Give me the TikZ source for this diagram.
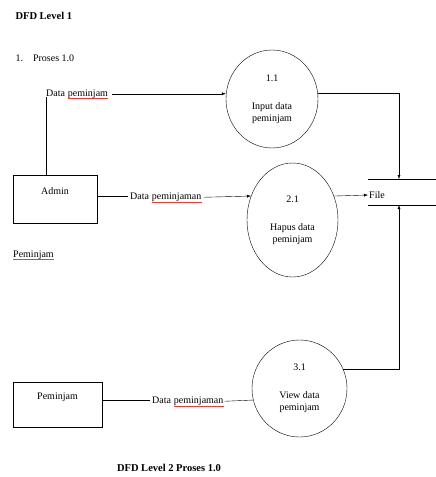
\documentclass[tikz,border=0pt]{standalone}
\usepackage{fontspec}
\setmainfont{Liberation Serif}
\usetikzlibrary{shapes.geometric}
\usetikzlibrary{arrows.meta}
\tikzset{proses/.style={draw,ellipse,inner sep=0pt,align=center},
    entitas/.style={draw,rectangle,inner sep=0pt},
    teks/.style={anchor=base west,inner sep=0pt},
    salah/.style={draw=red!80,line width=0.8pt},
    alir/.style={-{Latex[length=4pt,width=3pt]}}
}

\begin{document}
\begin{tikzpicture}[x=1pt,y=-1pt,font=\fontsize{10}{12}\selectfont]
                \useasboundingbox (0,0) rectangle (436,477);
                
                \node[anchor=west,font=\fontsize{10.5}{12}\selectfont\bfseries] (judul1) at (12,16) {DFD Level 1};
                \node[anchor=west] (sub) at (12,58) {1.\quad Proses 1.0};
                
                % Entitas luar
                \node[entitas,minimum width=84pt,minimum height=48pt,label={[anchor=north,yshift=-9pt]north:Admin}] (admin) at (55,199) {};
                \node[entitas,minimum width=89pt,minimum height=45pt,label={[anchor=north,yshift=-8pt]north:Peminjam}] (peminjam) at (57.5,404.5) {};
                \node[teks] (pem) at (13,257) {Peminjam};
                \draw[salah] ([yshift=-2.5pt]pem.base west) -- ([yshift=-2.5pt]pem.base east);
                
                % Proses
                \node[proses,minimum width=92pt,minimum height=98pt] (p11) at (272,99) {1.1\\[16pt]Input data\\peminjam};
                \node[proses,minimum width=91pt,minimum height=114pt] (p21) at (292.5,220) {2.1\\[16pt]Hapus data\\peminjam};
                \node[proses,minimum width=95pt,minimum height=97pt] (p31) at (299.5,388.5) {3.1\\[16pt]View data\\peminjam};
                
                % Data store
                \draw (368,179) -- (436,179);
                \draw (368,205) -- (436,205);
                \node[anchor=west,inner sep=1pt] (file) at (368,195) {File};
                \coordinate (s1) at (399,179);
                \coordinate (s2) at (399,205);
                
                % Label aliran data
                \node[teks] (lbl1) at (46,96) {Data};
                \node[teks] (lbl1w) at ([xshift=2.5pt]lbl1.base east) {peminjam};
                \node[teks] (lbl2) at (130,199.5) {Data};
                \node[teks] (lbl2w) at ([xshift=2.5pt]lbl2.base east) {peminjaman};
                \node[teks] (lbl3) at (152,403.5) {Data};
                \node[teks] (lbl3w) at ([xshift=2.5pt]lbl3.base east) {peminjaman};
                \foreach \w in {lbl1w,lbl2w,lbl3w}
                    \draw[salah] ([yshift=-2.5pt]\w.base west) -- ([yshift=-2.5pt]\w.base east);
                
                % Aliran data
                \draw (admin.north -| lbl1.south west) -- ([yshift=-1pt]lbl1.south west);
                \draw[alir] ([xshift=4pt]lbl1w.east) -- (lbl1w.east -| p11.west);
                \draw (lbl2.west -| admin.east) -- ([xshift=-2pt]lbl2.west);
                \draw[alir] ([xshift=2pt]lbl2w.east) -- (p21.150);
                \draw[alir] (p21.30) -- (file.west);
                \draw[alir] (p11.7) -- (p11.7 -| s1) -- (s1);
                \draw[alir] (p31.24) -- (p31.24 -| s2) -- (s2);
                \draw (lbl3.west -| peminjam.east) -- ([xshift=-2pt]lbl3.west);
                \draw ([xshift=1pt]lbl3w.east) -- (p31.194);
                
                \node[font=\fontsize{10.5}{12}\selectfont\bfseries] (judul2) at (169,468) {DFD Level 2 Proses 1.0};
\end{tikzpicture}
\end{document}
